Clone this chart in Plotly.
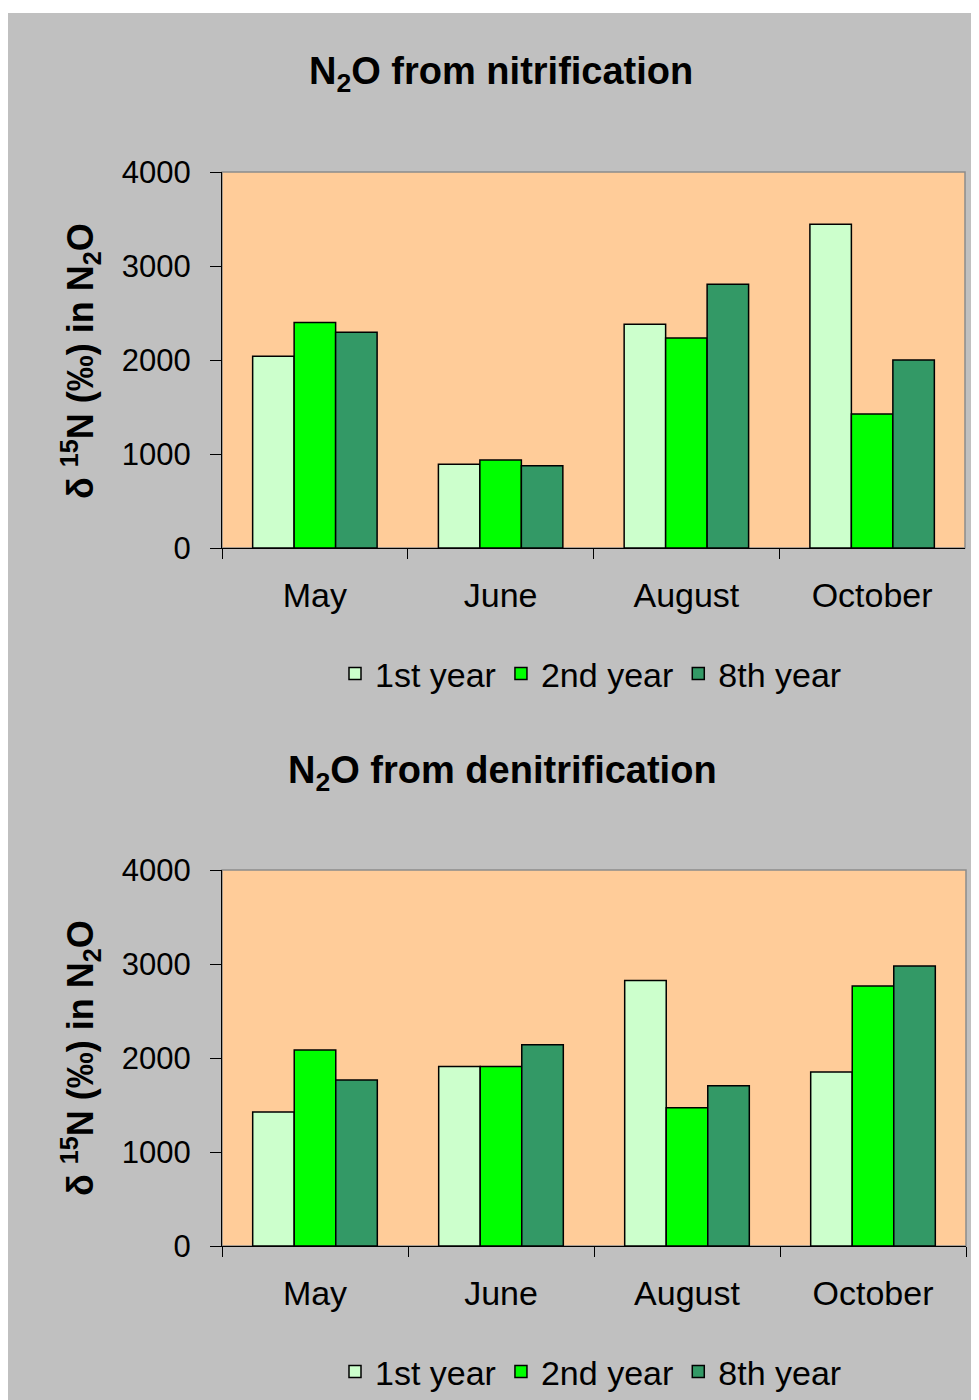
import plotly.graph_objects as go

MESES = ["May", "June", "August", "October"]
ANOS = ["1st year", "2nd year", "8th year"]
CORES = ["#CCFFCC", "#00FF00", "#339966"]

# delta 15N em N2O, nitrificacao
nitri_1 = [2040, 890, 2380, 3445]
nitri_2 = [2400, 935, 2235, 1425]
nitri_8 = [2295, 875, 2805, 2000]

# delta 15N em N2O, desnitrificacao
denitri_1 = [1425, 1910, 2825, 1850]
denitri_2 = [2085, 1910, 1470, 2765]
denitri_8 = [1765, 2140, 1705, 2980]

W, H = 979, 1400
OFF = 8  # margem do body da pagina
FONTE = "Liberation Sans, Arial, sans-serif"
CINZA = "#C0C0C0"
PESSEGO = "#FFCC99"


def px_x(x):
    return (x - OFF) / W


def px_y(y):
    return 1 - (y - OFF) / H


fig = go.Figure()

series = [
    (nitri_1, nitri_2, nitri_8, "x", "y", "legend"),
    (denitri_1, denitri_2, denitri_8, "x2", "y2", "legend2"),
]
for vals1, vals2, vals8, xa, ya, leg in series:
    for nome, cor, vals in zip(ANOS, CORES, [vals1, vals2, vals8]):
        fig.add_trace(go.Bar(
            x=MESES, y=vals, name=nome,
            marker=dict(color=cor, line=dict(color="black", width=1.5)),
            xaxis=xa, yaxis=ya, legend=leg,
        ))

eixo_x = dict(
    showline=True, linecolor="black", linewidth=1,
    ticks="outside", tickson="boundaries", ticklen=10, tickcolor="black",
    ticklabelstandoff=17,
    tickfont=dict(family=FONTE, size=34, color="black"),
    showgrid=False, zeroline=False, automargin=False,
)
eixo_y = dict(
    range=[0, 4000], dtick=1000, tickformat="d",
    showline=True, linecolor="black", linewidth=1,
    ticks="outside", ticklen=11, tickcolor="black",
    ticklabelstandoff=13,
    tickfont=dict(family=FONTE, size=31, color="black"),
    showgrid=False, zeroline=False, automargin=False,
)

fig.update_layout(
    width=W, height=H,
    margin=dict(l=0, r=0, t=0, b=0),
    paper_bgcolor=CINZA,
    plot_bgcolor=PESSEGO,
    barmode="group", bargap=0.33, bargroupgap=0,
    xaxis=dict(eixo_x, domain=[px_x(222), px_x(965)], anchor="y"),
    yaxis=dict(eixo_y, domain=[px_y(548), px_y(172)], anchor="x"),
    xaxis2=dict(eixo_x, domain=[px_x(222), px_x(966)], anchor="y2"),
    yaxis2=dict(eixo_y, domain=[px_y(1246), px_y(870)], anchor="x2"),
    legend=dict(
        orientation="h", x=px_x(591), y=px_y(674),
        xanchor="center", yanchor="middle",
        bgcolor="rgba(0,0,0,0)", itemwidth=30,
        font=dict(family=FONTE, size=34, color="black"),
    ),
    legend2=dict(
        orientation="h", x=px_x(591), y=px_y(1372),
        xanchor="center", yanchor="middle",
        bgcolor="rgba(0,0,0,0)", itemwidth=30,
        font=dict(family=FONTE, size=34, color="black"),
    ),
    showlegend=True,
)

# titulos
titulos = [
    ("N<sub>2</sub>O from nitrification", 501, 74),
    ("N<sub>2</sub>O from denitrification", 502, 773),
]
for texto, cx, cy in titulos:
    fig.add_annotation(
        text="<b>" + texto + "</b>", xref="paper", yref="paper",
        x=px_x(cx), y=px_y(cy), xanchor="center", yanchor="middle",
        showarrow=False, font=dict(family=FONTE, size=38, color="black"),
    )

# titulo do eixo y
for cy in [361, 1058]:
    fig.add_annotation(
        text="<b>δ <sup>15</sup>N (‰) in N<sub>2</sub>O</b>",
        xref="paper", yref="paper", x=px_x(80), y=px_y(cy),
        xanchor="center", yanchor="middle", textangle=-90,
        showarrow=False, font=dict(family=FONTE, size=36, color="black"),
    )

# borda cinza da area de plotagem e faixa branca no topo
for xa, ya in [("x", "y"), ("x2", "y2")]:
    fig.add_shape(
        type="rect", xref=xa + " domain", yref=ya + " domain",
        x0=0, x1=1, y0=0, y1=1, layer="below",
        line=dict(color="#8C8C8C", width=1.5), fillcolor=PESSEGO,
    )
fig.add_shape(type="rect", xref="paper", yref="paper", x0=0, x1=1,
              y0=px_y(13), y1=1, line_width=0, fillcolor="white", layer="below")

fig.write_html("out.html")
